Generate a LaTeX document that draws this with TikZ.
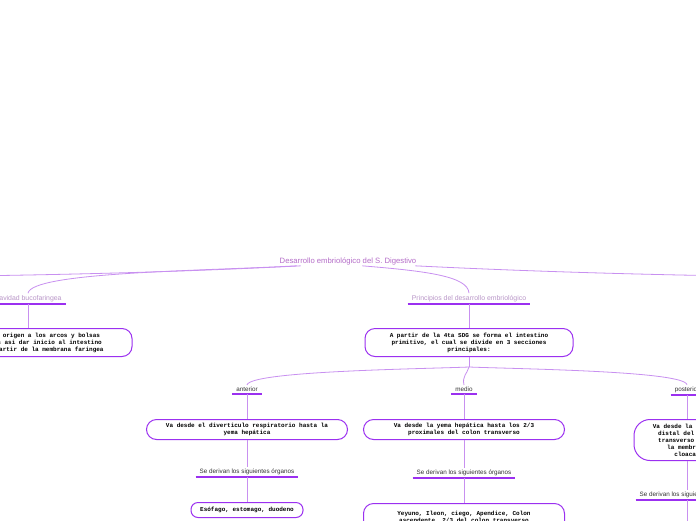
\documentclass[tikz,border=0pt]{standalone}
\usepackage{fontspec}
\setmainfont{Liberation Sans}
\newfontfamily\cardfont{Liberation Mono}
\usetikzlibrary{positioning}

\definecolor{mmline}{HTML}{9B30F0}
\definecolor{mmlink}{HTML}{C890F0}
\definecolor{mmtitle}{HTML}{B46CC8}
\definecolor{mmsub}{HTML}{B996C8}
\definecolor{mmtext}{HTML}{333333}

\tikzset{
  topic/.style={font=\fontsize{7.7}{8}\selectfont, text=mmtitle, inner sep=1pt},
  subtopic/.style={font=\fontsize{6.3}{7}\selectfont, inner xsep=4pt, inner ysep=2pt, anchor=south},
  leadtopic/.style={subtopic, font=\fontsize{6.9}{7}\selectfont, text=mmsub},
  card/.style={draw=mmline, line width=1pt, rounded corners=10pt, fill=white, align=center,
    font=\cardfont\bfseries\fontsize{6}{7}\selectfont, inner sep=0pt, anchor=north},
  link/.style={mmlink, line width=0.8pt},
  underline/.style={mmline, line width=1.4pt}
}

\begin{document}
\begin{tikzpicture}[x=1pt, y=-1pt]
\useasboundingbox[fill=white] (0,0) rectangle (696,520);

% Title and off-page branches
\node[topic] (title) at (348,261) {Desarrollo embriológico del S. Digestivo};
\coordinate (offL) at (-30,276);
\coordinate (offR) at (730,276);

% Level 1
\node[leadtopic] (bucal) at (28,304) {Cavidad bucofaringea};
\node[leadtopic] (princ) at (469,304) {Principios del desarrollo embriológico};

\node[card, minimum width=208pt, minimum height=28pt] (bucalbox) at (28,328)
  {Esta zona da origen a los arcos y bolsas\\las faringeas asi dar inicio al intestino\\primitivo a partir de la membrana faringea};
\node[card, minimum width=208pt, minimum height=28pt] (princbox) at (469,328)
  {A partir de la 4ta SDG se forma el intestino\\primitivo, el cual se divide en 3 secciones\\principales:};
\coordinate (split) at (469,367);

% Level 2
\node[subtopic, text=mmtext] (ant) at (247,394) {anterior};
\node[subtopic, text=mmtext] (med) at (464,394) {medio};
\node[subtopic, text=mmtext] (post) at (687,395) {posterior};

\node[card, minimum width=201pt, minimum height=20pt] (antbox) at (247,419)
  {Va desde el diverticulo respiratorio hasta la\\yema hepática};
\node[card, minimum width=201pt, minimum height=20pt] (medbox) at (464,419)
  {Va desde la yema hepática hasta los 2/3\\proximales del colon transverso};
\node[card, minimum width=106pt, minimum height=41pt, rounded corners=16pt] (postbox) at (687,419)
  {Va desde la porción\\distal del colon\\transverso hasta\\la membrana\\cloacal};

% Level 3
\node[subtopic, text=mmtext] (antder) at (247,477) {Se derivan los siguientes órganos};
\node[subtopic, text=mmtext] (medder) at (464,478) {Se derivan los siguientes órganos};
\node[subtopic, text=mmtext] (postder) at (687,500) {Se derivan los siguientes órganos};

\node[card, minimum width=112pt, minimum height=15pt, rounded corners=7pt] (antorg) at (247,502)
  {Esófago, estomago, duodeno};
\node[card, minimum width=201pt, minimum height=28pt] (medorg) at (464,503)
  {Yeyuno, Ileon, ciego, Apendice, Colon\\ascendente, 2/3 del colon transverso};
\coordinate (postend) at (687,530);

% Underlines
\foreach \n in {bucal,princ,ant,med,post,antder,medder,postder}
  \draw[underline] (\n.south west) -- (\n.south east);

% Connectors from the title
\draw[link] ([xshift=22pt]title.south west) .. controls (200,271) and (100,274) .. (offL);
\draw[link] ([xshift=18pt]title.south west) .. controls (200,271) and (32,272) .. (bucal.north);
\draw[link] ([xshift=-2pt]title.south east) .. controls (520,271) and (620,274) .. (offR);
\draw[link] ([xshift=-55pt]title.south east) .. controls (425,271) and (468,276) .. (princ.north);

% Vertical links
\draw[link] (bucal.south) -- (bucalbox.north);
\draw[link] (princ.south) -- (princbox.north);
\draw[link] (princbox.south) -- (split);
\draw[link] (split) .. controls (420,369) and (250,371) .. (ant.north);
\draw[link] (split) .. controls (467,374) and (462,376) .. (med.north);
\draw[link] (split) .. controls (520,369) and (684,371) .. (post.north);

\draw[link] (ant.south) -- (antbox.north);
\draw[link] (med.south) -- (medbox.north);
\draw[link] (post.south) -- (postbox.north);
\draw[link] (antbox.south) -- (antder.north);
\draw[link] (medbox.south) -- (medder.north);
\draw[link] (postbox.south) -- (postder.north);
\draw[link] (antder.south) -- (antorg.north);
\draw[link] (medder.south) -- (medorg.north);
\draw[link] (postder.south) -- (postend);
\end{tikzpicture}
\end{document}
